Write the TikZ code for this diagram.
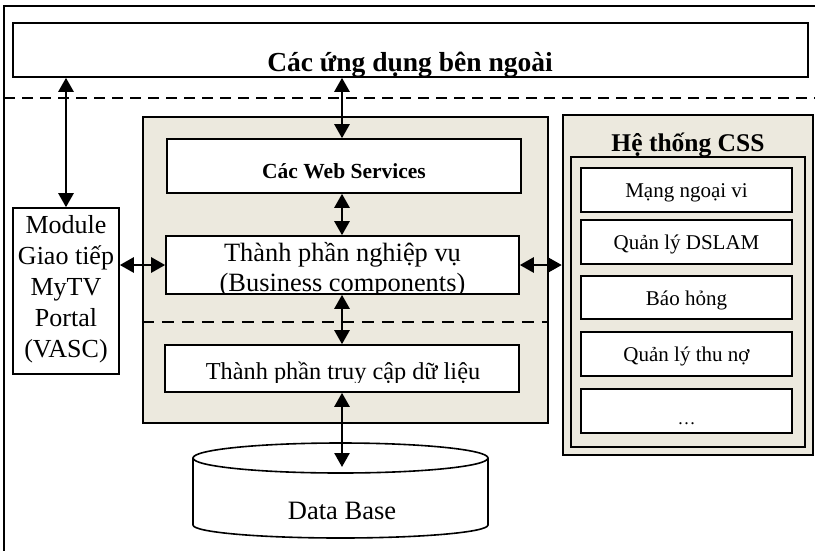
\documentclass[tikz,border=0pt]{standalone}
\usepackage{fontspec}
\setmainfont{Liberation Serif}
\usetikzlibrary{arrows.meta,calc}
\definecolor{panel}{RGB}{236,233,222}
\tikzset{
  box/.style={draw=black, fill=white, line width=1.6pt, inner sep=0pt},
  panelbox/.style={draw=black, fill=panel, line width=2.4pt, inner sep=0pt},
  itembox/.style={draw=black, fill=white, line width=2.2pt, inner sep=0pt,
    minimum width=211pt, minimum height=44pt},
  link/.style={line width=2.6pt,
    {Triangle[width=15pt,length=14pt]}-{Triangle[width=15pt,length=14pt]}},
  sep/.style={line width=2.6pt, dash pattern=on 11pt off 7pt},
  label/.style={inner sep=0pt, anchor=base},
}
\newcommand\fsz[2]{\fontsize{#1}{#2}\selectfont}

\begin{document}
\begin{tikzpicture}[x=1pt,y=-1pt]
\useasboundingbox (0,0) rectangle (815,550);
\fill[white] (0,0) rectangle (815,550);

% outer frame (runs past the page on the right and bottom)
\begin{scope}
  \clip (0,0) rectangle (815,550);
  \draw[line width=1.8pt] (4,560) -- (4,6) -- (825,6);
  % layer separator below the external applications
  \draw[sep] (4,98) -- (815,98);
\end{scope}

% external applications
\node[box, minimum width=795pt, minimum height=54pt] (ext) at (410.5,50) {};
\node[label, font=\fsz{27.5}{32}\bfseries] (exttext) at (410,71) {Các ứng dụng bên ngoài};

% portal module
\node[box, minimum width=106pt, minimum height=166pt] (mod) at (66,291) {};
\node[inner sep=0pt, align=center, font=\fsz{26}{31}] (modtext) at (66,289)
  {Module\\Giao tiếp\\MyTV\\Portal\\(VASC)};

% core system panel
\node[panelbox, minimum width=405pt, minimum height=306pt] (core) at (345.5,270) {};
\draw[line width=2pt, dash pattern=on 12pt off 8pt] (core.west |- 0,322) -- (core.east |- 0,322);

\node[box, minimum width=354pt, minimum height=54pt] (web) at (344,166) {};
\node[label, font=\fsz{21.5}{26}\bfseries] (webtext) at (344,178) {Các Web Services};

\node[box, minimum width=353pt, minimum height=58pt] (biz) at (342.5,265) {};
\begin{scope}
  \clip (biz.north west) rectangle ($(biz.south east)+(0,-1)$);
  \node[label, font=\fsz{26.4}{30}] (biztext1) at (342.5,261) {Thành phần nghiệp vụ};
  \node[label, font=\fsz{26.4}{30}] (biztext2) at (342.5,291) {(Business components)};
\end{scope}

\node[box, minimum width=354pt, minimum height=47pt] (dal) at (342,368.5) {};
\begin{scope}
  \clip (165,345) rectangle (519,382);
  \node[label, font=\fsz{24.3}{29}] (daltext) at (343,379) {Thành phần truy cập dữ liệu};
\end{scope}

% CSS system panel
\node[panelbox, minimum width=250pt, minimum height=340pt] (css) at (688,285) {};
\node[label, font=\fsz{25.5}{30}\bfseries] (csstitle) at (688,151) {Hệ thống CSS};
\node[draw=black, fill=panel, line width=2pt, inner sep=0pt,
      minimum width=234pt, minimum height=290pt] (cssin) at (688,302) {};

\node[itembox] (net) at (686.5,190) {};
\node[label, font=\fsz{21}{25}] at (686.5,197.5) {Mạng ngoại vi};
\node[itembox] (dslam) at (686.5,242) {};
\node[label, font=\fsz{21}{25}] at (686.5,249.5) {Quản lý DSLAM};
\node[itembox, minimum height=43pt] (fault) at (686.5,297.5) {};
\node[label, font=\fsz{21}{25}] at (686.5,305) {Báo hỏng};
\node[itembox] (debt) at (686.5,354) {};
\node[label, font=\fsz{21}{25}] at (686.5,361.5) {Quản lý thu nợ};
\node[itembox] (more) at (686.5,411) {};
\node[label, font=\fsz{18}{22}] at (686.5,424) {…};

% database
\draw[line width=1.6pt, fill=white] (193,458) -- (193,525)
  arc[start angle=180, end angle=0, x radius=147.5, y radius=13] -- (488,458);
\draw[line width=1.6pt, fill=white] (340.5,458) ellipse [x radius=147.5, y radius=15];
\node[label, font=\fsz{26.5}{30}] (db) at (342,519) {Data Base};
\coordinate (dbtop) at (342,467);

% connectors
\draw[link] (mod.north) -- (mod.north |- ext.south);
\draw[link] (ext.south -| 342,0) -- (web.north -| 342,0);
\draw[link] (web.south -| 342,0) -- (biz.north -| 342,0);
\draw[link] (biz.south -| 342,0) -- (dal.north -| 342,0);
\draw[link] (dal.south -| 342,0) -- (dbtop);
\draw[link] (mod.east |- biz.west) -- (biz.west);
\draw[link] (biz.east) -- (biz.east -| css.west);
\end{tikzpicture}
\end{document}
